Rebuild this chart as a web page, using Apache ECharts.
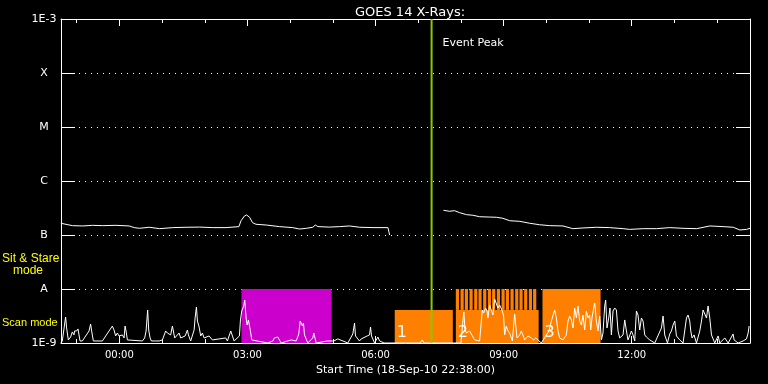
<!DOCTYPE html>
<html><head><meta charset="utf-8">
<script src="https://cdn.jsdelivr.net/npm/echarts@6/dist/echarts.min.js"></script>
<style>html,body{margin:0;padding:0;background:#000;}#c{width:768px;height:384px;}</style>
</head><body><div id="c"></div>
<script>
// ---- data (time in hours relative to 19-Sep 00:00, flux in W/m^2) ----
const startHour = -1.3667;   // 22:38 on 18-Sep
const endHour = 14.77;
const hourTicks = [-1,0,1,2,3,4,5,6,7,8,9,10,11,12,13,14];
const majorHours = [0,3,6,9,12];
const levelNames = ['1E-9','A','B','C','M','X','1E-3'];
const eventPeakHour = 7.3125;

const goesTime = [-1.37,-1.33,-1.10,-0.86,-0.63,-0.39,-0.08,0.23,0.35,0.47,0.70,0.94,1.25,1.56,1.88,2.19,2.50,2.80,2.85,2.93,2.98,3.05,3.12,3.20,3.44,3.75,4.06,4.22,4.38,4.53,4.59,4.65,4.92,5.16,5.39,5.63,5.94,6.29,6.33,
  6.9,
  7.59,7.73,7.85,7.97,8.13,8.28,8.44,8.67,8.83,8.98,9.14,9.38,9.61,9.84,10.08,10.39,10.62,10.86,11.17,11.48,11.80,11.95,12.27,12.58,12.89,13.20,13.52,13.83,14.14,14.38,14.53,14.69,14.77];
const goesFlux = [1.65e-7,1.58e-7,1.49e-7,1.47e-7,1.51e-7,1.49e-7,1.51e-7,1.47e-7,1.37e-7,1.33e-7,1.39e-7,1.31e-7,1.37e-7,1.39e-7,1.40e-7,1.37e-7,1.37e-7,1.43e-7,1.84e-7,2.25e-7,2.35e-7,2.13e-7,1.69e-7,1.58e-7,1.53e-7,1.43e-7,1.37e-7,1.29e-7,1.33e-7,1.39e-7,1.53e-7,1.43e-7,1.40e-7,1.43e-7,1.47e-7,1.39e-7,1.37e-7,1.37e-7,1.00e-7,
  null,
  2.87e-7,2.75e-7,2.82e-7,2.59e-7,2.38e-7,2.32e-7,2.18e-7,2.15e-7,2.13e-7,2.04e-7,1.84e-7,1.79e-7,1.65e-7,1.55e-7,1.49e-7,1.47e-7,1.31e-7,1.35e-7,1.39e-7,1.37e-7,1.31e-7,1.27e-7,1.31e-7,1.31e-7,1.37e-7,1.33e-7,1.31e-7,1.47e-7,1.43e-7,1.39e-7,1.24e-7,1.27e-7,1.33e-7];

// scan-mode signal, in units of 1e-9 W/m^2
const scanTime = [-1.37,-1.336,-1.259,-1.235,-1.195,-1.141,-1.102,-1.062,-1.048,-1.001,-0.968,-0.921,-0.867,-0.710,-0.673,-0.649,-0.609,-0.398,-0.164,-0.124,-0.087,-0.047,-0.007,0.030,0.070,0.110,0.134,0.157,0.188,0.539,0.593,0.626,0.640,0.663,0.687,0.720,0.750,0.851,0.930,1.008,1.085,1.125,1.202,1.242,1.266,1.296,1.399,1.437,1.540,1.570,1.594,1.617,1.671,1.751,1.774,1.805,1.828,1.868,1.905,1.945,1.985,2.102,2.140,2.180,2.220,2.491,2.531,2.609,2.632,2.688,2.812,2.836,2.866,2.913,2.937,2.969,2.993,3.023,3.047,3.070,3.101,3.227,3.258,3.476,3.593,3.633,3.673,3.710,3.790,4.024,4.141,4.202,4.235,4.259,4.289,4.312,4.336,4.413,4.530,4.554,4.610,4.868,5.023,5.055,5.116,5.351,5.468,5.508,5.531,5.585,5.625,5.665,5.805,5.836,5.859,5.883,5.906,5.977,6.054,6.094,6.200,7.050,7.094,7.140,8.000,8.046,8.069,8.093,8.126,8.163,8.203,8.243,8.280,8.320,8.437,8.501,8.531,8.578,8.609,8.632,8.672,8.712,8.749,8.789,8.829,8.866,8.906,8.946,8.969,9.000,9.023,9.063,9.101,9.140,9.204,9.258,9.281,9.312,9.375,9.414,9.452,9.492,9.569,9.609,9.649,9.703,9.750,9.804,9.883,10.062,10.118,10.172,10.195,10.235,10.273,10.312,10.390,10.469,10.507,10.547,10.587,10.624,10.664,10.704,10.741,10.781,10.821,10.858,10.898,10.938,10.976,11.015,11.039,11.069,11.109,11.133,11.172,11.210,11.250,11.290,11.327,11.367,11.390,11.421,11.461,11.491,11.524,11.562,11.601,11.641,11.679,11.719,11.758,11.796,11.836,11.876,11.913,11.993,12.030,12.070,12.110,12.147,12.187,12.227,12.265,12.305,12.344,12.422,12.462,12.539,12.696,12.734,12.773,12.837,12.890,12.930,12.968,13.008,13.047,13.125,13.202,13.282,13.319,13.359,13.383,13.413,13.460,13.516,13.594,13.634,13.671,13.711,13.751,13.788,13.828,13.868,13.945,14.023,14.062,14.180,14.258,14.374,14.398,14.491,14.608,14.688,14.726,14.750];
const scanNano = [1.00,1.09,3.03,1.90,1.14,1.29,1.60,1.41,1.67,1.67,1.82,1.09,1.09,1.67,2.25,1.67,1.09,1.09,2.06,1.74,1.35,1.53,1.35,1.24,1.41,1.24,2.06,1.67,1.14,1.09,1.24,1.67,2.34,4.08,1.74,1.24,1.09,1.09,1.09,1.14,1.67,1.53,1.41,2.06,2.15,1.24,1.53,1.24,1.35,1.47,1.74,1.41,1.09,1.74,2.90,4.64,2.55,1.98,1.35,1.53,1.24,1.35,1.41,1.14,1.09,1.24,1.09,1.67,1.74,1.09,1.35,2.67,3.91,4.85,6.25,2.90,2.15,2.67,2.67,1.67,1.14,1.09,1.14,1.00,1.09,1.24,1.35,1.29,1.00,1.14,1.09,1.47,2.55,2.55,2.06,2.34,1.41,1.00,1.24,1.53,1.00,1.09,1.09,1.14,1.19,1.00,1.47,2.34,1.35,1.19,1.09,1.19,1.35,1.24,1.41,1.98,1.35,1.00,1.29,1.09,1.00,1.00,1.14,1.00,1.00,2.55,3.75,1.90,1.53,1.41,1.67,1.47,1.53,1.14,1.09,4.08,3.59,4.45,3.91,2.90,5.06,5.28,3.30,6.53,6.00,4.45,5.06,4.85,3.91,3.16,1.41,2.06,1.67,1.53,1.09,3.44,3.16,1.24,1.41,1.67,1.41,1.14,1.35,1.41,1.24,1.14,1.24,1.14,1.00,1.67,2.55,3.59,4.08,2.90,1.67,1.24,1.14,1.41,2.55,3.16,2.67,1.90,4.45,2.90,4.85,2.55,2.15,3.30,1.74,3.91,2.90,3.30,1.74,2.90,4.45,5.50,2.55,1.67,3.16,1.14,1.53,4.85,6.25,1.90,2.90,4.45,1.41,3.91,4.45,4.08,1.67,1.24,1.35,1.41,2.67,1.67,1.14,1.67,1.41,1.09,3.91,3.30,1.74,2.90,2.55,1.41,1.29,1.14,1.24,1.00,1.90,3.16,1.41,1.00,1.47,1.67,2.15,2.55,1.35,1.14,1.00,2.90,3.30,2.55,1.67,1.24,1.41,1.00,1.67,2.55,4.08,3.91,2.90,4.85,2.90,1.41,1.00,1.35,1.00,1.24,1.00,1.47,1.14,1.00,1.09,1.19,1.53,2.06];

// observing blocks
const blockStart = [2.86, 6.45, 7.88, 9.91];
const blockEnd   = [4.97, 7.81, 9.82, 11.27];
const blockTop   = [1e-8, 4.1e-9, 4.1e-9, 1e-8];
const blockLabel = ['', '1', '2', '3'];
const blockKind  = ['stare', 'event', 'event', 'event'];
const combStart = [7.88,7.99,8.09,8.20,8.31,8.41,8.52,8.63,8.73,8.84,8.95,9.05,9.16,9.27,9.37,9.48,9.59,9.69];
const combEnd   = [7.955,8.065,8.165,8.275,8.385,8.485,8.595,8.705,8.805,8.915,9.025,9.125,9.235,9.345,9.445,9.555,9.665,9.765];
const combTop = 1e-8, combBottom = 4.1e-9;

// ---- chart ----
const FONT = 'DejaVu Sans';
const LFONT = 'Liberation Sans';
const WHITE = '#ffffff';
const kindColor = {stare: '#cc00cc', event: '#ff8000'};
const chart = echarts.init(document.getElementById('c'));
function hhmm(v){ const h = ((Math.round(v) % 24) + 24) % 24; return (h < 10 ? '0' : '') + h + ':00'; }
function levelLabel(v){ const e = Math.round(Math.log10(v)); return levelNames[e + 9] || ''; }

const goesData = goesTime.map((t, i) => [t, goesFlux[i]]);
const scanData = scanTime.map((t, i) => [t, scanNano[i] * 1e-9]);
const blockData = blockStart.map((s, i) => [s, blockEnd[i], blockTop[i], i]);
const combData = combStart.map((s, i) => [s, combEnd[i], combTop, combBottom]);

const baseX = {type: 'value', min: startHour, max: endHour, splitLine: {show: false},
  axisLine: {show: false}, axisLabel: {show: false}, axisTick: {show: false}};
const tickStyle = {color: WHITE, width: 1};

chart.setOption({
  backgroundColor: '#000000',
  animation: false,
  title: {text: 'GOES 14 X-Rays:', left: 405, top: 1, textAlign: 'center',
    textStyle: {color: WHITE, fontFamily: FONT, fontSize: 13, fontWeight: 'normal'}},
  grid: {left: 61, right: 18, top: 19, bottom: 41, containLabel: false},
  xAxis: [
    Object.assign({}, baseX, {position: 'bottom',
      axisLine: {show: true, onZero: false, lineStyle: {color: WHITE, width: 1}},
      axisTick: {show: true, inside: true, length: 4, customValues: hourTicks, lineStyle: tickStyle},
      axisLabel: {show: true, customValues: majorHours, formatter: hhmm, color: WHITE, fontFamily: FONT, fontSize: 10, margin: 7},
      name: 'Start Time (18-Sep-10 22:38:00)', nameLocation: 'middle', nameGap: 22,
      nameTextStyle: {color: WHITE, fontFamily: FONT, fontSize: 11}}),
    Object.assign({}, baseX, {position: 'bottom',
      axisTick: {show: true, inside: true, length: 7, customValues: majorHours, lineStyle: tickStyle}}),
    Object.assign({}, baseX, {position: 'top',
      axisLine: {show: true, onZero: false, lineStyle: {color: WHITE, width: 1}},
      axisTick: {show: true, inside: true, length: 4, customValues: hourTicks, lineStyle: tickStyle}}),
    Object.assign({}, baseX, {position: 'top',
      axisTick: {show: true, inside: true, length: 7, customValues: majorHours, lineStyle: tickStyle}})
  ],
  yAxis: [
    {type: 'log', logBase: 10, min: 1e-9, max: 1e-3, position: 'left',
      axisLine: {show: true, onZero: false, lineStyle: {color: WHITE, width: 1}},
      axisTick: {show: true, inside: true, length: 14, lineStyle: tickStyle},
      axisLabel: {color: WHITE, fontFamily: FONT, fontSize: 11, align: 'center', margin: 17,
        formatter: levelLabel, showMinLabel: true, showMaxLabel: true},
      splitLine: {show: true, lineStyle: {color: WHITE, width: 1, type: [1, 5]}},
      minorTick: {show: false}, minorSplitLine: {show: false}},
    {type: 'log', logBase: 10, min: 1e-9, max: 1e-3, position: 'right',
      axisLine: {show: true, onZero: false, lineStyle: {color: WHITE, width: 1}},
      axisTick: {show: true, inside: true, length: 14, lineStyle: tickStyle},
      axisLabel: {show: false}, splitLine: {show: false}}
  ],
  graphic: [
    {type: 'text', left: 2, top: 253, style: {text: 'Sit & Stare', fill: '#ffff00', font: '12px ' + LFONT}},
    {type: 'text', left: 13, top: 265, style: {text: 'mode', fill: '#ffff00', font: '12px ' + LFONT}},
    {type: 'text', left: 2, top: 317, style: {text: 'Scan mode', fill: '#ffff00', font: '11px ' + LFONT}}
  ],
  series: [
    {type: 'custom', name: 'blocks', data: blockData, z: 2, encode: {x: [0, 1], y: 2},
      renderItem: (params, api) => {
        const i = api.value(3);
        const p0 = api.coord([api.value(0), api.value(2)]);
        const p1 = api.coord([api.value(1), 1e-9]);
        const children = [{type: 'rect', shape: {x: p0[0], y: p0[1], width: p1[0] - p0[0], height: p1[1] - p0[1]},
          style: {fill: kindColor[blockKind[i]]}}];
        if (blockLabel[i]) children.push({type: 'text', z2: 5, style: {text: blockLabel[i], x: p0[0] + 2, y: p1[1] - 2,
          fill: WHITE, font: '16px ' + FONT, align: 'left', verticalAlign: 'bottom'}});
        return {type: 'group', children: children};
      }},
    {type: 'custom', name: 'comb', data: combData, z: 2, encode: {x: [0, 1], y: [2, 3]},
      renderItem: (params, api) => {
        const p0 = api.coord([api.value(0), api.value(2)]);
        const p1 = api.coord([api.value(1), api.value(3)]);
        return {type: 'rect', shape: {x: p0[0], y: p0[1], width: p1[0] - p0[0], height: p1[1] - p0[1]},
          style: {fill: kindColor.event}};
      }},
    {type: 'line', name: 'scan', data: scanData, z: 3, symbol: 'none', silent: true,
      lineStyle: {color: WHITE, width: 1}},
    {type: 'line', name: 'goes', data: goesData, z: 3, symbol: 'none', silent: true, connectNulls: false,
      lineStyle: {color: WHITE, width: 1}},
    {type: 'custom', name: 'event', data: [[eventPeakHour]], z: 4, encode: {x: 0},
      renderItem: (params, api) => {
        const top = api.coord([api.value(0), 1e-3]);
        const bot = api.coord([api.value(0), 1e-9]);
        return {type: 'group', children: [
          {type: 'line', shape: {x1: top[0], y1: top[1], x2: bot[0], y2: bot[1]}, style: {stroke: '#8cc800', lineWidth: 2}},
          {type: 'text', style: {text: 'Event Peak', x: top[0] + 11, y: top[1] + 24, fill: WHITE,
            font: '11px ' + FONT, align: 'left', verticalAlign: 'middle'}}
        ]};
      }}
  ]
});
</script></body></html>
